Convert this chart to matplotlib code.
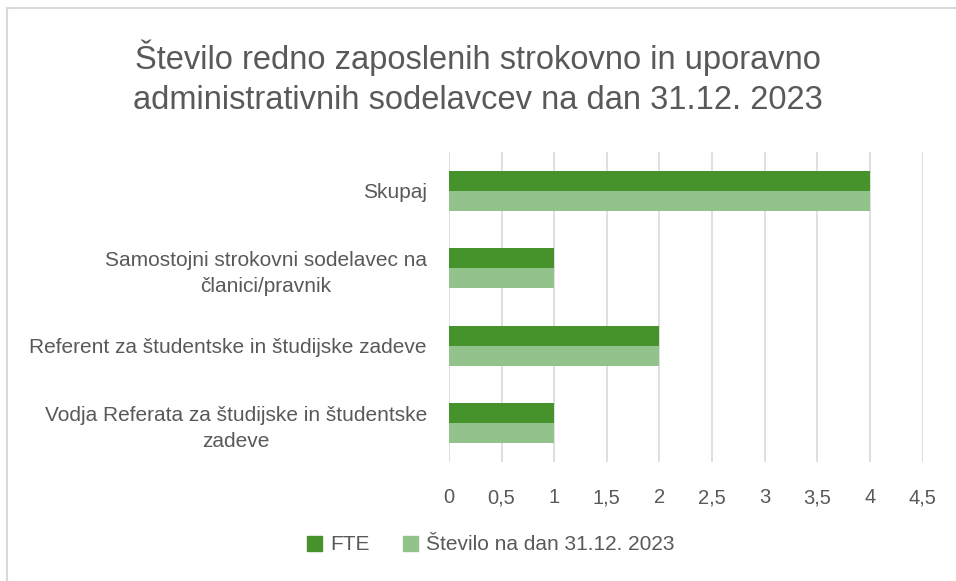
import numpy as np
import matplotlib
matplotlib.use("Agg")
import matplotlib.pyplot as plt
from matplotlib.lines import Line2D
from matplotlib.patches import Patch

categories = [
    "Skupaj",
    "Samostojni strokovni sodelavec na\nčlanici/pravnik",
    "Referent za študentske in študijske zadeve",
    "Vodja Referata za študijske in študentske\nzadeve",
]
fte = [4, 1, 2, 1]
stevilo = [4, 1, 2, 1]
series_names = ["FTE", "Število na dan 31.12. 2023"]
xticks = [0, 0.5, 1, 1.5, 2, 2.5, 3, 3.5, 4, 4.5]
xtick_labels = ["0", "0,5", "1", "1,5", "2", "2,5", "3", "3,5", "4", "4,5"]

dark = "#46922B"
light = "#92C38A"
txt = "#595959"
grid = "#D9D9D9"

plt.rcParams["font.family"] = ["Liberation Sans", "DejaVu Sans"]

W, H = 956, 581
fig = plt.figure(figsize=(W / 100, H / 100), dpi=100)
ax = fig.add_axes([449 / W, 1 - 462 / H, (922.6 - 449) / W, (462 - 152) / H])

y = np.arange(len(categories))
h = 0.26
ax.barh(y - h / 2, fte, height=h, color=dark, zorder=3)
ax.barh(y + h / 2, stevilo, height=h, color=light, zorder=3)

ax.set_xlim(0, 4.5)
ax.set_ylim(len(categories) - 0.5, -0.5)
ax.set_xticks(xticks, labels=xtick_labels)
ax.set_yticks(y, labels=categories)
for lab in ax.get_yticklabels():
    lab.set_multialignment("center")
    lab.set_linespacing(1.45)
ax.tick_params(axis="x", length=0, pad=19, labelsize=14.5, labelcolor=txt)
ax.tick_params(axis="y", length=0, pad=16, labelsize=15, labelcolor=txt)
ax.grid(axis="x", color=grid, linewidth=1.2, zorder=0)
for s in ax.spines.values():
    s.set_visible(False)

fig.text(0.5, 1 - 78 / H, "Število redno zaposlenih strokovno in uporavno\nadministrativnih sodelavcev na dan 31.12. 2023",
         ha="center", va="center", fontsize=23.5, color=txt, linespacing=1.38)

handles = [Patch(color=dark), Patch(color=light)]
fig.legend(handles, series_names, loc="center", bbox_to_anchor=(491 / W, 1 - 545 / H),
           ncol=2, frameon=False, fontsize=15, labelcolor=txt,
           handlelength=0.7, handleheight=0.7, handletextpad=0.4, columnspacing=1.6)

fig.add_artist(Line2D([7 / W, 7 / W], [0, 1 - 8 / H], color=grid, linewidth=1.5))
fig.add_artist(Line2D([7 / W, 1], [1 - 8 / H, 1 - 8 / H], color=grid, linewidth=1.5))

fig.savefig("out.png", dpi=100, facecolor="white")
